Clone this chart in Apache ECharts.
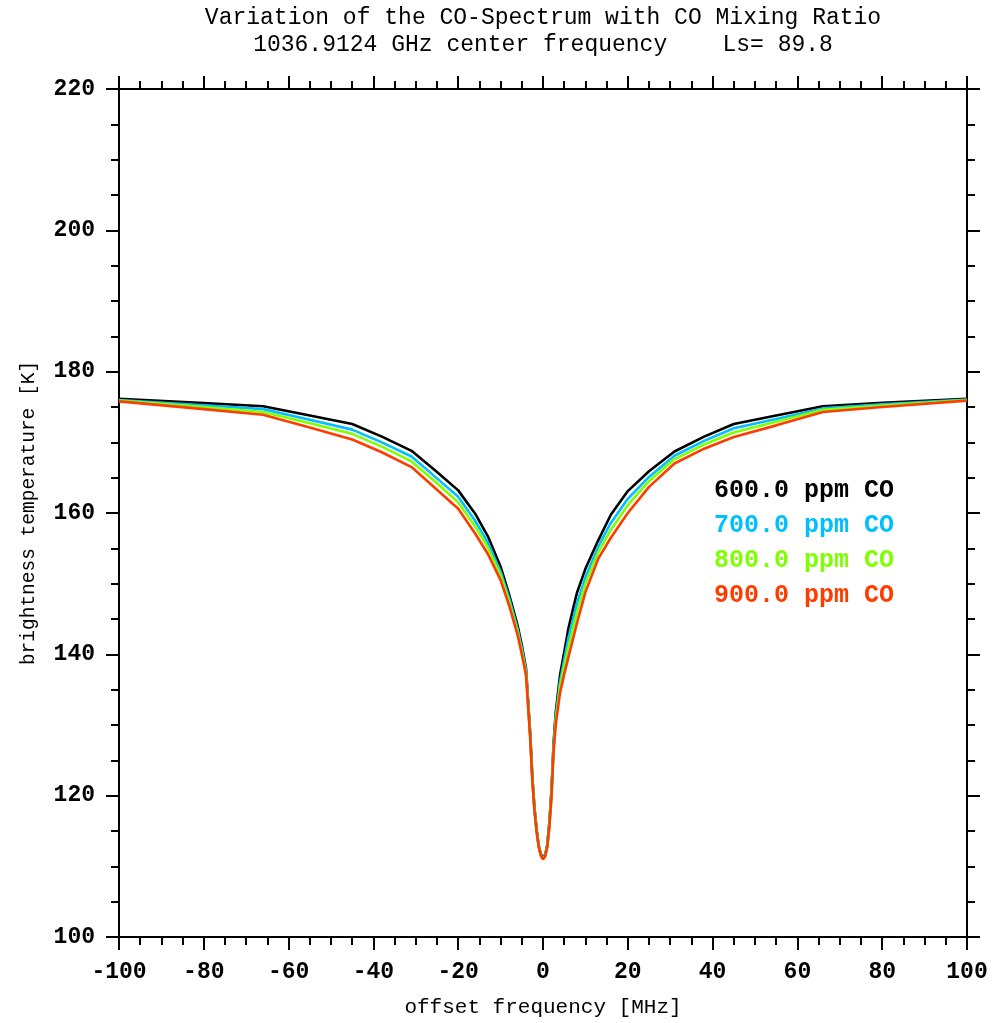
<!DOCTYPE html>
<html>
<head>
<meta charset="utf-8">
<script src="https://cdn.jsdelivr.net/npm/echarts@6/dist/echarts.min.js"></script>
<style>
html,body{margin:0;padding:0;background:#fff;}
#chart{width:994px;height:1023px;}
</style>
</head>
<body>
<div id="chart"></div>
<script>
// ---- data ----
const titleLines = ['Variation of the CO-Spectrum with CO Mixing Ratio', '1036.9124 GHz center frequency    Ls= 89.8'];
const xAxisName = 'offset frequency [MHz]';
const yAxisName = 'brightness temperature [K]';
const seriesNames = ['600.0 ppm CO', '700.0 ppm CO', '800.0 ppm CO', '900.0 ppm CO'];
const seriesColors = ['#000000', '#00bfff', '#7fff00', '#ff3c00'];

const freqs = [-100, -80, -66, -55, -45, -38, -31, -25, -20, -16, -13, -10, -8, -6, -5, -4, -3, -2.5, -2, -1.5, -1, -0.5, 0,
  0.5, 1, 1.5, 2, 2.5, 3, 4, 5, 6, 8, 10, 13, 16, 20, 25, 31, 38, 45, 55, 66, 80, 100];

const co600 = [176.15, 175.55, 175.1, 173.8, 172.6, 170.8, 168.8, 165.8, 163.2, 159.9, 156.7, 152.4, 148.5, 144.1, 141.3, 138.0, 128.6, 122.5, 118.2, 115.2, 112.9, 111.7, 111.3,
  111.6, 113.0, 116.2, 120.8, 127.5, 131.8, 137.0, 140.3, 143.7, 148.7, 152.1, 156.1, 159.75, 163.1, 165.9, 168.7, 170.8, 172.6, 173.8, 175.1, 175.6, 176.15];
const co700 = [176.0, 175.25, 174.7, 173.2, 171.8, 170.0, 168.0, 164.9, 162.3, 158.9, 155.8, 151.7, 148.0, 143.6, 140.85, 137.65, 128.4, 122.3, 118.1, 115.1, 112.8, 111.6, 111.2,
  111.5, 112.9, 116.0, 120.4, 127.0, 131.2, 136.1, 139.2, 142.3, 147.2, 150.9, 155.2, 158.6, 162.0, 165.1, 168.1, 170.2, 172.0, 173.3, 174.8, 175.4, 176.05];
const co800 = [175.9, 175.0, 174.3, 172.7, 171.2, 169.4, 167.3, 164.2, 161.5, 158.1, 155.1, 151.2, 147.5, 143.2, 140.45, 137.35, 128.2, 122.2, 117.9, 115.0, 112.75, 111.55, 111.1,
  111.45, 112.8, 115.8, 120.1, 126.7, 130.6, 135.4, 138.3, 141.0, 145.9, 150.0, 154.4, 157.6, 161.1, 164.5, 167.6, 169.7, 171.4, 172.9, 174.6, 175.2, 176.0];
const co900 = [175.8, 174.7, 173.9, 172.1, 170.4, 168.6, 166.5, 163.3, 160.6, 157.1, 154.2, 150.5, 146.95, 142.75, 140.0, 137.0, 128.0, 122.0, 117.8, 114.9, 112.7, 111.5, 111.0,
  111.4, 112.7, 115.6, 119.8, 126.3, 130.0, 134.5, 137.2, 139.6, 144.4, 148.8, 153.5, 156.5, 160.0, 163.7, 167.0, 169.1, 170.75, 172.4, 174.3, 175.0, 175.9];

const xRange = [-100, 100];
const xStep = 20;
const yRange = [100, 220];
const yStep = 20;

// ---- chart ----
const allSeries = [co600, co700, co800, co900];
const MONO = "'Liberation Mono', 'DejaVu Sans Mono', monospace";

const chart = echarts.init(document.getElementById('chart'), null, {renderer: 'canvas'});

const axisLine = {show: true, onZero: false, lineStyle: {color: '#000', width: 2}};
const tickMain = {show: true, inside: false, length: 13, lineStyle: {color: '#000', width: 2}};
const tickMinor = {show: true, splitNumber: 4, length: 8, lineStyle: {color: '#000', width: 2}};

const grid = {left: 119, right: 27, top: 89, bottom: 83, containLabel: false};

const labelStyle = {color: '#000', fontFamily: MONO, fontSize: 23, fontWeight: 'bold'};

const option = {
  backgroundColor: '#fff',
  animation: false,
  grid: grid,
  xAxis: [
    {
      type: 'value', position: 'bottom', min: xRange[0], max: xRange[1], interval: xStep,
      axisLine: axisLine, axisTick: tickMain, minorTick: tickMinor, splitLine: {show: false},
      axisLabel: Object.assign({margin: 24, showMinLabel: true, showMaxLabel: true}, labelStyle),
      name: xAxisName, nameLocation: 'middle', nameGap: 60,
      nameTextStyle: {color: '#000', fontFamily: MONO, fontSize: 21}
    },
    {
      type: 'value', position: 'top', min: xRange[0], max: xRange[1], interval: xStep,
      axisLine: axisLine, axisTick: tickMain, minorTick: tickMinor, splitLine: {show: false},
      axisLabel: {show: false}
    }
  ],
  yAxis: [
    {
      type: 'value', position: 'left', min: yRange[0], max: yRange[1], interval: yStep,
      axisLine: axisLine, axisTick: tickMain, minorTick: tickMinor, splitLine: {show: false},
      axisLabel: Object.assign({margin: 24}, labelStyle),
      name: yAxisName, nameLocation: 'middle', nameGap: 80, nameRotate: 90,
      nameTextStyle: {color: '#000', fontFamily: MONO, fontSize: 19.5}
    },
    {
      type: 'value', position: 'right', min: yRange[0], max: yRange[1], interval: yStep,
      axisLine: axisLine, axisTick: tickMain, minorTick: tickMinor, splitLine: {show: false},
      axisLabel: {show: false}
    }
  ],
  series: allSeries.map((vals, i) => ({
    name: seriesNames[i],
    type: 'line',
    xAxisIndex: 0,
    yAxisIndex: 0,
    data: freqs.map((f, j) => [f, vals[j]]),
    showSymbol: false,
    symbol: 'none',
    smooth: false,
    lineStyle: {color: seriesColors[i], width: 2.6},
    z: 2 + i
  })),
  graphic: [
    {type: 'text', x: 543, y: 18, style: {text: titleLines[0], fill: '#000', font: "23px " + MONO, textAlign: 'center', textVerticalAlign: 'middle'}},
    {type: 'text', x: 543, y: 45, style: {text: titleLines[1], fill: '#000', font: "23px " + MONO, textAlign: 'center', textVerticalAlign: 'middle'}}
  ].concat(seriesNames.map((n, i) => ({
    type: 'text', x: 714, y: 491 + i * 34.8,
    style: {text: n, fill: seriesColors[i], font: "bold 25px " + MONO, textAlign: 'left', textVerticalAlign: 'middle'}
  })))
};

chart.setOption(option);
</script>
</body>
</html>
